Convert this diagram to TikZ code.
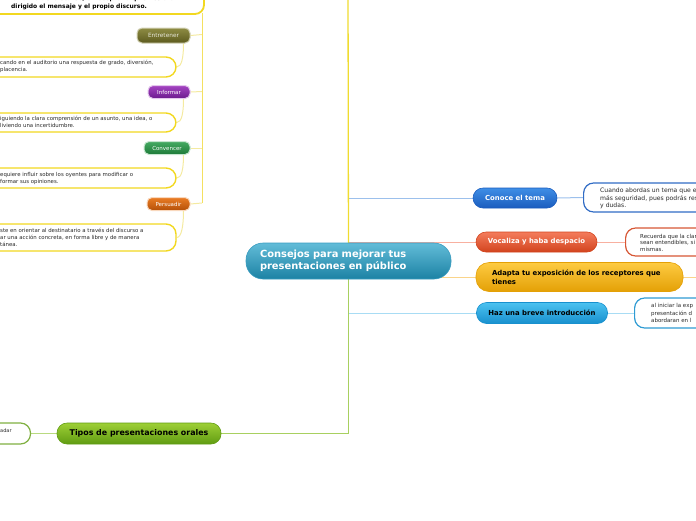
\documentclass[tikz,border=0pt]{standalone}
\usepackage{fontspec}
\setmainfont{DejaVu Sans}
\pgfdeclarelayer{bg}
\pgfsetlayers{bg,main}
\newcommand{\myfs}[2]{\fontsize{#1}{#2}\selectfont}
\definecolor{rootT}{HTML}{62BCD8}\definecolor{rootB}{HTML}{1C82A4}\definecolor{rootE}{HTML}{3A9CC0}
\definecolor{conT}{HTML}{3F8EE6}\definecolor{conB}{HTML}{1A5CBE}
\definecolor{vocT}{HTML}{F47C5C}\definecolor{vocB}{HTML}{D2441E}
\definecolor{adaT}{HTML}{FDCB42}\definecolor{adaB}{HTML}{E4A006}
\definecolor{hazT}{HTML}{4CC2F0}\definecolor{hazB}{HTML}{1890CE}
\definecolor{tipT}{HTML}{9ECF36}\definecolor{tipB}{HTML}{609C12}
\definecolor{entT}{HTML}{8E8C44}\definecolor{entB}{HTML}{5C5A1E}
\definecolor{infT}{HTML}{A444C2}\definecolor{infB}{HTML}{6C1A8E}
\definecolor{cvnT}{HTML}{44AA62}\definecolor{cvnB}{HTML}{1E7A38}
\definecolor{perT}{HTML}{EA7C24}\definecolor{perB}{HTML}{B45008}
\definecolor{lnBlue}{HTML}{9CC0EC}
\definecolor{lnSalmon}{HTML}{F8B0A0}
\definecolor{lnOrange}{HTML}{FAD48A}
\definecolor{lnCyan}{HTML}{A8DCF4}
\definecolor{lnGreen}{HTML}{A8D060}
\definecolor{lnYellow}{HTML}{F0DC30}
\definecolor{lnYel2}{HTML}{F4E060}
\definecolor{lnYel3}{HTML}{F4EAA0}
\definecolor{boxYel}{HTML}{F2D820}
\definecolor{txtgray}{HTML}{2A2A2A}
\begin{document}
\begin{tikzpicture}[x=1pt,y=-1pt,
  pill/.style={rectangle, rounded corners=#1, inner sep=0pt, line width=0.6pt},
  pill/.default=9pt,
  topic/.style={font=\bfseries\myfs{6.9}{8.6}},
  small/.style={font=\myfs{5.5}{6.5}, text=#1},
  dbox/.style={rectangle, rounded corners=10pt, fill=white, line width=1.3pt, inner sep=0pt},
  dtxt/.style={inner sep=0pt, anchor=west, align=left, text=txtgray},
  conn/.style={line width=1pt}]
\useasboundingbox (0,0) rectangle (696,520);
\clip (0,0) rectangle (696,520);

% ---------- central node ----------
\node[pill=17pt, top color=rootT, bottom color=rootB, draw=rootE,
  minimum width=205pt, minimum height=36pt, text width=177pt, inner xsep=14pt,
  align=left, font=\bfseries\myfs{9.9}{11.7}, text=white] (root) at (348.5,261)
  {Consejos para mejorar tus\\presentaciones en público};

% ---------- right topics ----------
\node[pill=10pt, top color=conT, bottom color=conB, draw=conB, minimum width=84pt, minimum height=20pt, topic, text=white] (conoce) at (515,198) {Conoce el tema};
\node[pill=10pt, top color=vocT, bottom color=vocB, draw=vocB, minimum width=121pt, minimum height=20pt, topic, text=white] (voc) at (536.5,242) {Vocaliza y haba despacio};
\node[pill=13pt, top color=adaT, bottom color=adaB, draw=adaB, minimum width=207pt, minimum height=29pt, text width=175pt, inner xsep=16pt, align=left, topic, text=black] (adapta) at (579.5,277) {Adapta tu exposición de los receptores que\\tienes};
\node[pill=10pt, top color=hazT, bottom color=hazB, draw=hazB, minimum width=131pt, minimum height=21pt, topic, text=black] (haz) at (542,313) {Haz una breve introducción};
\coordinate (adaptaOut) at (720,277);

% right detail boxes
\node[dbox, draw=conB!90!white, line width=1.2pt, minimum width=180pt, minimum height=29pt, anchor=west] (conD) at (583,197.5) {};
\node[dtxt, font=\myfs{6.1}{7.5}] (conDt) at (600,198.5) {Cuando abordas un tema que e\\más seguridad, pues podrás res\\y dudas.};
\node[dbox, draw=vocB!90!white, line width=1.2pt, minimum width=150pt, minimum height=28pt, anchor=west] (vocD) at (625,242) {};
\node[dtxt, font=\myfs{5.5}{6.8}] (vocDt) at (640,242.8) {Recuerda que la clar\\sean entendibles, si\\mismas.};
\node[dbox, draw=hazB!90!white, line width=1.2pt, minimum width=150pt, minimum height=30pt, anchor=west] (hazD) at (634,313) {};
\node[dtxt, font=\myfs{5.5}{7.3}] (hazDt) at (651,313.2) {al iniciar la exp\\presentación d\\abordaran en l};

% ---------- bottom-left topic ----------
\node[pill=10pt, top color=tipT, bottom color=tipB, draw=tipB, minimum width=164pt, minimum height=21pt, font=\bfseries\myfs{7.9}{9}, text=black] (tipos) at (139,433.5) {Tipos de presentaciones orales};
\node[dbox, draw=tipB!80!white, line width=1.2pt, minimum width=70pt, minimum height=21pt] (tipD) at (-4.5,433.5) {};
\node[dtxt, font=\myfs{5}{6}] (tipDt) at (0,431) {adar};

% ---------- upper-left yellow branch ----------
\node[dbox, draw=boxYel, line width=1.8pt, rounded corners=9pt, minimum width=240pt, minimum height=50pt] (topbox) at (84,-11) {};
\node[anchor=west, inner sep=0pt, font=\bfseries\myfs{6}{8}, text=black] (tb1) at (11,-1.2) {la forma del discurso, el receptor a quien estará};
\node[anchor=west, inner sep=0pt, font=\bfseries\myfs{6}{8}, text=black] (tb2) at (11,7) {dirigido el mensaje y el propio discurso.};

\node[pill=5pt, top color=entT, bottom color=entB, draw=entT!40!white, line width=1pt, minimum width=53pt, minimum height=15pt, small={entT!20!white}, font=\myfs{5.8}{6.5}] (ent) at (163.5,35.5) {Entretener};
\node[pill=5pt, top color=infT, bottom color=infB, draw=infT!30!white, line width=1pt, minimum width=42pt, minimum height=13pt, small=white] (inf) at (169,92) {Informar};
\node[pill=5pt, top color=cvnT, bottom color=cvnB, draw=cvnT!30!white, line width=1pt, minimum width=46pt, minimum height=13pt, small=white] (cvn) at (167,148) {Convencer};
\node[pill=5pt, top color=perT, bottom color=perB, draw=perT!30!white, line width=1pt, minimum width=43pt, minimum height=13pt, small=white] (per) at (168.5,204) {Persuadir};

\node[dbox, draw=boxYel, line width=1.4pt, minimum width=216pt, minimum height=20pt] (d1) at (68,67) {};
\node[dtxt, font=\myfs{5.4}{6.8}] (d1t) at (0,66.7) {cando en el auditorio una respuesta de grado, diversión,\\placencia.};
\node[dbox, draw=boxYel, line width=1.4pt, minimum width=216pt, minimum height=19pt] (d2) at (68,122.5) {};
\node[dtxt, font=\myfs{5.4}{7}] (d2t) at (0,122) {iguiendo la clara comprensión de un asunto, una idea, o\\liviendo una incertidumbre.};
\node[dbox, draw=boxYel, line width=1.4pt, minimum width=216pt, minimum height=20pt] (d3) at (68,178) {};
\node[dtxt, font=\myfs{5.4}{6.8}] (d3t) at (0,178.5) {equiere influir sobre los oyentes para modificar o\\formar sus opiniones.};
\node[dbox, draw=boxYel, line width=1.4pt, minimum width=216pt, minimum height=27pt] (d4) at (68,237.5) {};
\node[dtxt, font=\myfs{5.4}{7}] (d4t) at (0,237.8) {ste en orientar al destinatario a través del discurso a\\ar una acción concreta, en forma libre y de manera\\tánea.};

\coordinate (ytop) at (348,-20);
\coordinate (gtop) at (348.7,198);
\coordinate (lv1) at (202,13);
\coordinate (j1) at (202,34.5);
\coordinate (j2) at (202,91.5);
\coordinate (j3) at (202,148);
\coordinate (j4) at (202,203);

% ---------- connectors ----------
\begin{pgfonlayer}{bg}
  \draw[conn, lnBlue] (root.center) |- (conoce.west);
  \draw[conn, lnSalmon] (root.center) |- (voc.west);
  \draw[conn, lnOrange] (root.center) |- (adapta.west);
  \draw[conn, lnCyan] (root.center) |- (haz.west);
  \draw[conn, lnBlue] (conoce.east) -- (conD.west);
  \draw[conn, lnSalmon] (voc.east) -- (vocD.west);
  \draw[conn, lnOrange] (adapta.east) -- (adaptaOut);
  \draw[conn, lnCyan] (haz.east) -- (hazD.west);
  \draw[line width=1.3pt, lnGreen] (gtop) |- (tipos.east);
  \draw[conn, lnGreen!80!white] (tipos.west) -- (tipD.east);
  \draw[line width=1.3pt, lnYellow] (root.center) -- (ytop);
  % left branch
  \draw[conn, lnYel2] (lv1) -- (j4);
  \draw[conn, lnYel3] (ent.east) .. controls +(6,0) and +(-5,0) .. (j1);
  \draw[conn, lnYel3] (inf.east) .. controls +(6,0) and +(-5,0) .. (j2);
  \draw[conn, lnYel3] (cvn.east) .. controls +(6,0) and +(-5,0) .. (j3);
  \draw[conn, lnYel3] (per.east) .. controls +(6,0) and +(-5,0) .. (j4);
  \draw[conn, lnYel3] ([xshift=-7pt]ent.south east) .. controls +(0,14) and +(5,0) .. (d1.east);
  \draw[conn, lnYel3] ([xshift=-7pt]inf.south east) .. controls +(0,14) and +(5,0) .. (d2.east);
  \draw[conn, lnYel3] ([xshift=-7pt]cvn.south east) .. controls +(0,14) and +(5,0) .. (d3.east);
  \draw[conn, lnYel3] ([xshift=-7pt]per.south east) .. controls +(0,14) and +(5,0) .. (d4.east);
\end{pgfonlayer}
\end{tikzpicture}
\end{document}
